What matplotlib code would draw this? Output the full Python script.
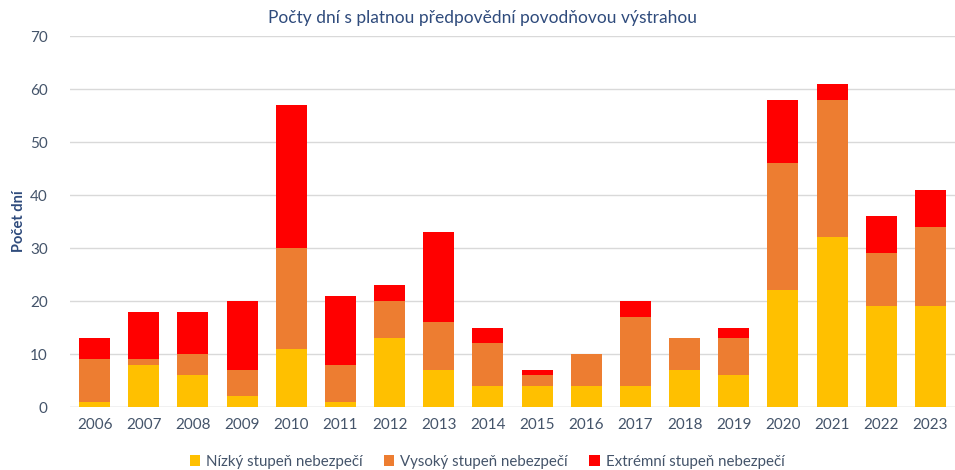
import matplotlib
matplotlib.use("Agg")
import matplotlib.pyplot as plt
import numpy as np

years = ["2006", "2007", "2008", "2009", "2010", "2011", "2012", "2013", "2014",
         "2015", "2016", "2017", "2018", "2019", "2020", "2021", "2022", "2023"]
low = [1, 8, 6, 2, 11, 1, 13, 7, 4, 4, 4, 4, 7, 6, 22, 32, 19, 19]
high = [8, 1, 4, 5, 19, 7, 7, 9, 8, 2, 6, 13, 6, 7, 24, 26, 10, 15]
extreme = [4, 9, 8, 13, 27, 13, 3, 17, 3, 1, 0, 3, 0, 2, 12, 3, 7, 7]
series_names = ["Nízký stupeň nebezpečí", "Vysoký stupeň nebezpečí", "Extrémní stupeň nebezpečí"]
colors = ["#FFC000", "#ED7D31", "#FF0000"]
yticks = [0, 10, 20, 30, 40, 50, 60, 70]

plt.rcParams['font.family'] = ['Lato', 'DejaVu Sans']
text_col = "#44546A"
title_col = "#2F4B7C"

fig = plt.figure(figsize=(9.55, 4.7), dpi=100)
ax = fig.add_axes([0.0733, 0.134, 0.9267, 0.789])

x = np.arange(len(years))
w = 0.63
bottom = np.zeros(len(years))
for vals, name, c in zip([low, high, extreme], series_names, colors):
    ax.bar(x, vals, w, bottom=bottom, color=c, label=name, zorder=3)
    bottom += np.array(vals)

ax.set_xlim(-0.5, len(years) - 0.5)
ax.set_ylim(0, 70)
ax.set_yticks(yticks)
ax.set_xticks(x)
ax.set_xticklabels(years)
ax.tick_params(axis='both', length=0, labelsize=11, colors=text_col)
ax.tick_params(axis='x', pad=8)
ax.tick_params(axis='y', pad=16)
ax.grid(axis='y', color="#D9D9D9", linewidth=1, zorder=0)
for s in ax.spines.values():
    s.set_visible(False)
ax.axhline(0, color="#D9D9D9", linewidth=1, zorder=1)

ax.set_ylabel("Počet dní", fontsize=10.5, fontweight='bold', color=title_col)
ax.yaxis.set_label_coords(-0.05, 0.5)

fig.text(0.505, 0.962, "Počty dní s platnou předpovědní povodňovou výstrahou",
         ha='center', va='center', fontsize=12.5, color=title_col)

leg = fig.legend(loc='center', bbox_to_anchor=(0.51, 0.018), ncol=3, frameon=False,
                 fontsize=10.8, handlelength=0.7, handleheight=0.7, handletextpad=0.4,
                 columnspacing=1.4)
for t in leg.get_texts():
    t.set_color(text_col)

fig.savefig("out.png", dpi=100)
